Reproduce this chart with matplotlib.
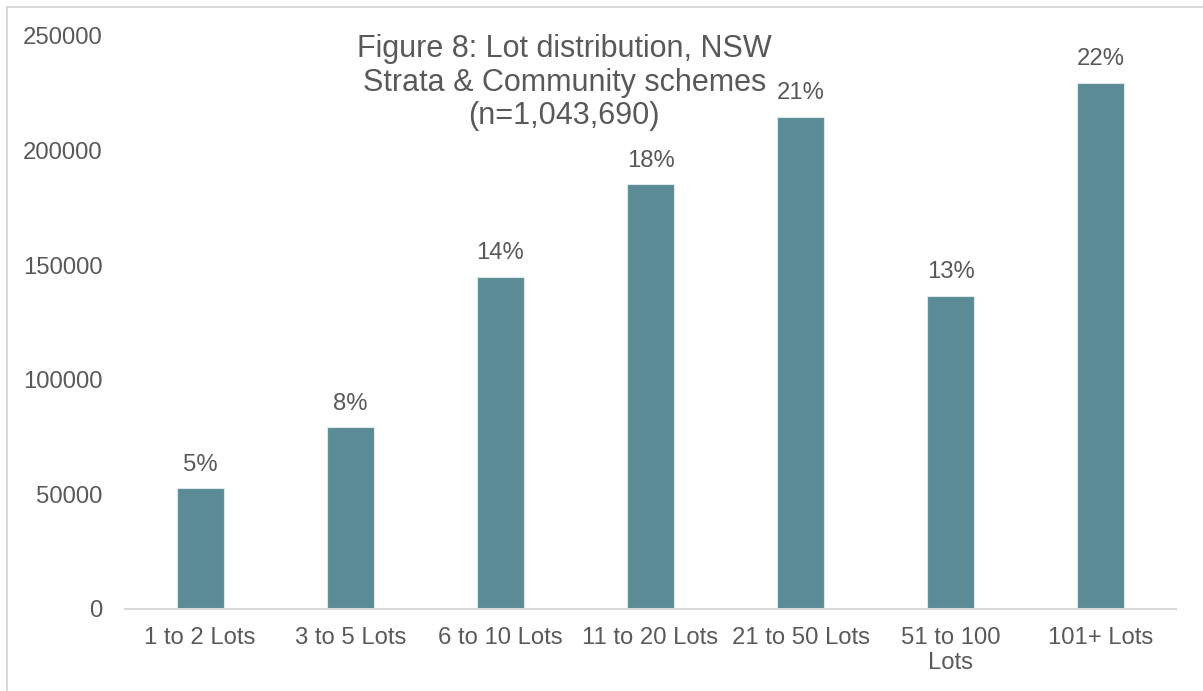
import matplotlib.pyplot as plt
from matplotlib.patches import Rectangle

plt.rcParams['font.family'] = ['Liberation Sans', 'DejaVu Sans']

# Lot distribution data
CATEGORIES = ['1 to 2 Lots', '3 to 5 Lots', '6 to 10 Lots', '11 to 20 Lots',
              '21 to 50 Lots', '51 to 100\nLots', '101+ Lots']
LOT_COUNTS = [52700, 79300, 145000, 185300, 214700, 136600, 229600]
SHARE_LABELS = ['5%', '8%', '14%', '18%', '21%', '13%', '22%']
Y_TICKS = [0, 50000, 100000, 150000, 200000, 250000]

TITLE = 'Figure 8: Lot distribution, NSW\nStrata & Community schemes\n(n=1,043,690)'
BAR_COLOR = '#5B8B95'
TEXT_COLOR = '#595959'
AXIS_COLOR = '#D9D9D9'


def main():
    fig = plt.figure(figsize=(12.03, 6.91), dpi=100)
    # outer chart frame (light gray border)
    fig.patches.append(Rectangle((7 / 1203, -0.05), 1.2, 1 - 7 / 691 + 0.05,
                                 transform=fig.transFigure, fill=False,
                                 edgecolor='#D9D9D9', linewidth=1.5))
    ax = fig.add_axes([0.1039, 0.1187, 0.8737, 0.8293])

    x = range(len(CATEGORIES))
    ax.bar(x, LOT_COUNTS, width=0.313, color=BAR_COLOR, edgecolor='#DCE8EA',
           linewidth=0.8, zorder=2)
    for i, (value, label) in enumerate(zip(LOT_COUNTS, SHARE_LABELS)):
        ax.annotate(label, (i, value), xytext=(0, 9), textcoords='offset points',
                    ha='center', va='bottom', fontsize=17.2, color=TEXT_COLOR)

    ax.set_xlim(-0.5, len(CATEGORIES) - 0.5)
    ax.set_ylim(0, 250000)
    ax.set_yticks(Y_TICKS)
    ax.set_yticklabels([str(t) for t in Y_TICKS])
    ax.set_xticks(list(x))
    ax.set_xticklabels(CATEGORIES, linespacing=1.2)
    ax.tick_params(axis='both', length=0, labelsize=17.2, labelcolor=TEXT_COLOR)
    ax.tick_params(axis='y', pad=16)
    ax.tick_params(axis='x', pad=13)
    for side in ['top', 'right', 'left']:
        ax.spines[side].set_visible(False)
    ax.spines['bottom'].set_color(AXIS_COLOR)
    ax.spines['bottom'].set_linewidth(1.5)

    fig.text(0.469, 0.951, TITLE, ha='center', va='top', fontsize=22,
             color=TEXT_COLOR, linespacing=1.16)

    fig.savefig('out.png', dpi=100, facecolor='white')


main()
